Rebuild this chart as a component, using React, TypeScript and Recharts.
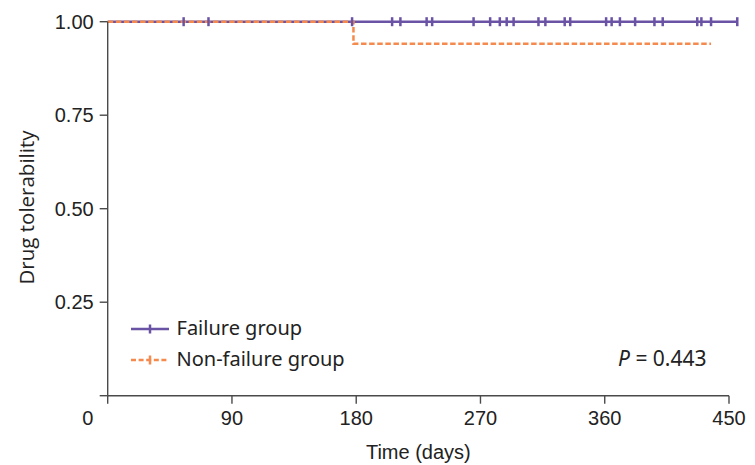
import { Line, LineChart, ReferenceLine, XAxis, YAxis } from 'recharts';

// censored observations (tick marks) in the failure group, all at survival 1.0
const failureCensorDays = [
  55, 73, 177, 206, 212, 231, 235, 265, 277, 284, 289, 294, 312, 317, 331, 335, 361, 365, 371, 382,
  396, 402, 427, 430, 437, 456
];

// non-failure group: one event at day 178, followed until day 437
const nonFailureDays = [0, 178, 437];
const nonFailureSurv = [1, 0.941, 0.941];

const xTicks = [0, 90, 180, 270, 360, 450];
const yTicks = [0, 0.25, 0.5, 0.75, 1];

const legendNames = ['Failure group', 'Non-failure group'];

const PURPLE = '#6a52a5';
const ORANGE = '#f58a4e';
const AXIS = '#4a4a4a';
const TEXT = '#222222';

const failureData = [
  { day: 0, surv: 1, censor: false },
  ...failureCensorDays.map((day) => ({ day, surv: 1, censor: true }))
];

const nonFailureData = nonFailureDays.map((day, i) => ({ day, surv: nonFailureSurv[i], censor: false }));

function censorDot(color: string) {
  return (props: any) => {
    const { cx, cy, payload, index } = props;
    if (!payload || !payload.censor) return <g key={`n-${index}`} />;
    return (
      <line
        key={`c-${index}`}
        x1={cx}
        x2={cx}
        y1={cy - 4.5}
        y2={cy + 4.5}
        stroke={color}
        strokeWidth={2.5}
      />
    );
  };
}

function XTick(props: any) {
  const { x, y, payload } = props;
  const shift = payload.value === 0 ? -20 : 0;
  return (
    <text
      x={x + shift}
      y={y}
      dy={19}
      textAnchor="middle"
      fill={TEXT}
      fontSize={20}
      fontFamily="Liberation Sans, Arial, sans-serif"
    >
      {payload.value}
    </text>
  );
}

function ChartLegend() {
  const rows = [
    { name: legendNames[0], color: PURPLE, dash: undefined },
    { name: legendNames[1], color: ORANGE, dash: '5 2.6' }
  ];
  return (
    <div style={{ position: 'absolute', left: 130.5, top: 312.5 }}>
      {rows.map((r) => (
        <div key={r.name} style={{ display: 'flex', alignItems: 'center', height: 31 }}>
          <svg width={46} height={20} style={{ display: 'block' }}>
            <line x1={0} x2={38} y1={11} y2={11} stroke={r.color} strokeWidth={2.5} strokeDasharray={r.dash} />
            <line x1={19} x2={19} y1={6.5} y2={15.5} stroke={r.color} strokeWidth={2.5} />
          </svg>
          <span style={{ fontFamily: 'Noto Sans, sans-serif', fontSize: 20, color: TEXT, lineHeight: '20px' }}>
            {r.name}
          </span>
        </div>
      ))}
    </div>
  );
}

export default function App() {
  return (
    <div style={{ position: 'relative', width: 755, height: 465 }}>
      <style>{'body{margin:0}'}</style>
      <LineChart width={755} height={465} margin={{ top: 21.7, right: 12.2, left: 0, bottom: 0 }}>
        <XAxis
          type="number"
          dataKey="day"
          domain={[0, 460]}
          ticks={xTicks}
          axisLine={false}
          tickSize={8}
          tickLine={{ stroke: AXIS, strokeWidth: 1.4 }}
          tick={<XTick />}
          height={69.3}
          label={{
            content: (p: any) => {
              const vb = p.viewBox;
              const cx = vb.x + ((450 / 460) * vb.width) / 2;
              return (
                <text
                  x={cx}
                  y={459}
                  textAnchor="middle"
                  fill={TEXT}
                  fontSize={20}
                  fontFamily="Liberation Sans, Arial, sans-serif"
                >
                  Time (days)
                </text>
              );
            }
          }}
        />
        <YAxis
          type="number"
          domain={[0, 1]}
          ticks={yTicks}
          width={107.7}
          tickSize={8}
          tickMargin={6}
          axisLine={{ stroke: AXIS, strokeWidth: 1.4 }}
          tickLine={{ stroke: AXIS, strokeWidth: 1.4 }}
          tick={{ fill: TEXT, fontSize: 20, fontFamily: 'Liberation Sans, Arial, sans-serif' }}
          tickFormatter={(v: number) => (v === 0 ? '' : v.toFixed(2))}
          label={{
            content: () => (
              <text
                x={26}
                y={207.5}
                transform="rotate(-90, 26, 207.5)"
                textAnchor="middle"
                dominantBaseline="central"
                fill={TEXT}
                fontSize={20.5}
                fontFamily="Open Sans, sans-serif"
              >
                Drug tolerability
              </text>
            )
          }}
        />
        <ReferenceLine
          segment={[
            { x: 0, y: 0 },
            { x: 450, y: 0 }
          ]}
          stroke={AXIS}
          strokeWidth={1.4}
          ifOverflow="visible"
        />
        <Line
          data={failureData}
          dataKey="surv"
          type="stepAfter"
          stroke={PURPLE}
          strokeWidth={2.5}
          dot={censorDot(PURPLE)}
          activeDot={false}
          isAnimationActive={false}
        />
        <Line
          data={nonFailureData}
          dataKey="surv"
          type="stepAfter"
          stroke={ORANGE}
          strokeWidth={2.5}
          strokeDasharray="5.5 2.6"
          dot={censorDot(ORANGE)}
          activeDot={false}
          isAnimationActive={false}
        />
      </LineChart>
      <ChartLegend />
      <div
        style={{
          position: 'absolute',
          left: 618,
          top: 343.5,
          fontFamily: 'Noto Sans, sans-serif',
          fontSize: 21,
          color: TEXT,
          whiteSpace: 'nowrap'
        }}
      >
        <i>P</i> = 0.443
      </div>
    </div>
  );
}
